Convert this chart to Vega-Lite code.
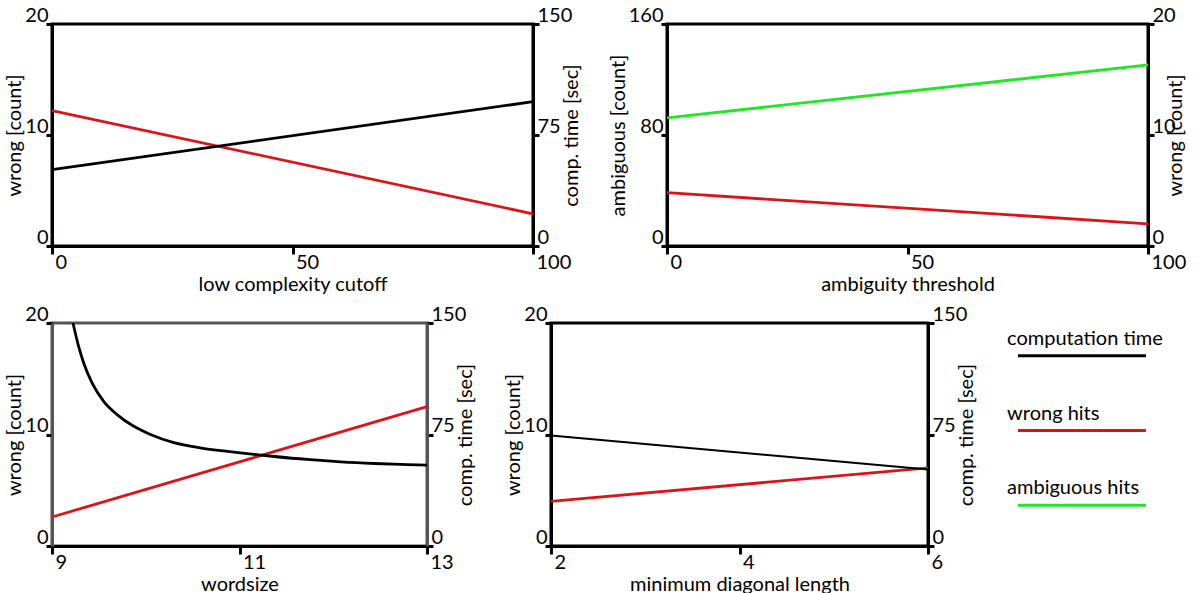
{
  "$schema": "https://vega.github.io/schema/vega-lite/v6.json",
  "background": "white",
  "padding": {"left": 3, "top": 3, "right": 0, "bottom": 0},
  "autosize": {"type": "pad"},
  "datasets": {
    "p1": [
      {"x": 0, "series": "wrong hits", "value": 12.2},
      {"x": 100, "series": "wrong hits", "value": 2.9},
      {"x": 0, "series": "computation time", "value": 51.6},
      {"x": 100, "series": "computation time", "value": 97.5}
    ],
    "p2": [
      {"x": 0, "series": "ambiguous hits", "value": 92.3},
      {"x": 100, "series": "ambiguous hits", "value": 130.5},
      {"x": 0, "series": "wrong hits", "value": 4.8},
      {"x": 100, "series": "wrong hits", "value": 2.0}
    ],
    "p3": [
      {"x": 9, "series": "wrong hits", "value": 2.6},
      {"x": 13, "series": "wrong hits", "value": 12.5},
      {"x": 9.224, "series": "computation time", "value": 150},
      {"x": 9.284, "series": "computation time", "value": 134.2},
      {"x": 9.338, "series": "computation time", "value": 123.1},
      {"x": 9.427, "series": "computation time", "value": 109.7},
      {"x": 9.551, "series": "computation time", "value": 97.3},
      {"x": 9.694, "series": "computation time", "value": 88.4},
      {"x": 9.872, "series": "computation time", "value": 80.5},
      {"x": 10.05, "series": "computation time", "value": 75.0},
      {"x": 10.3, "series": "computation time", "value": 69.5},
      {"x": 10.58, "series": "computation time", "value": 66.0},
      {"x": 10.87, "series": "computation time", "value": 63.6},
      {"x": 11.01, "series": "computation time", "value": 62.6},
      {"x": 11.37, "series": "computation time", "value": 60.2},
      {"x": 11.72, "series": "computation time", "value": 58.2},
      {"x": 12.08, "series": "computation time", "value": 56.6},
      {"x": 12.44, "series": "computation time", "value": 55.5},
      {"x": 12.79, "series": "computation time", "value": 54.8},
      {"x": 13, "series": "computation time", "value": 54.4}
    ],
    "p4": [
      {"x": 2, "series": "wrong hits", "value": 4.0},
      {"x": 6, "series": "wrong hits", "value": 7.0},
      {"x": 2, "series": "computation time", "value": 74.3},
      {"x": 6, "series": "computation time", "value": 51.5}
    ],
    "legend": [
      {"series": "computation time"},
      {"series": "wrong hits"},
      {"series": "ambiguous hits"}
    ]
  },
  "config": {
    "font": "Lato",
    "view": {"stroke": "black", "strokeWidth": 3},
    "axis": {
      "labelFont": "Lato", "labelFontSize": 20, "labelColor": "black",
      "titleFont": "Lato", "titleFontSize": 20, "titleFontWeight": "normal", "titleColor": "black",
      "domainColor": "black", "domainWidth": 3, "tickColor": "black", "tickWidth": 3,
      "grid": false, "labelOverlap": false, "labelFlush": false, "labelBound": false
    },
    "axisX": {"tickSize": 8, "labelAlign": "left", "labelBaseline": "top", "labelOffset": 3, "labelPadding": -2, "titlePadding": 2, "labelAngle": 0},
    "axisLeft": {"tickSize": 6, "labelAlign": "right", "labelBaseline": "alphabetic", "labelOffset": -3, "labelPadding": -2, "titlePadding": 0},
    "axisRight": {"tickSize": 6, "labelAlign": "left", "labelBaseline": "alphabetic", "labelOffset": -3, "labelPadding": -2, "titlePadding": 10, "titleAngle": -90},
    "line": {"strokeWidth": 2.8, "clip": true}
  },
  "spacing": 6,
  "vconcat": [
    {
      "bounds": "flush",
      "spacing": 134,
      "hconcat": [
        {
          "width": 481, "height": 222,
          "data": {"name": "p1"},
          "layer": [
            {
              "transform": [{"filter": "datum.series === 'wrong hits'"}],
              "mark": "line",
              "encoding": {
                "x": {"field": "x", "type": "quantitative", "scale": {"domain": [0, 100]}, "axis": {"title": "low complexity cutoff", "values": [0, 50, 100]}},
                "y": {"field": "value", "type": "quantitative", "scale": {"domain": [0, 20]}, "axis": {"orient": "left", "title": "wrong [count]", "values": [0, 10, 20]}},
                "color": {"field": "series", "type": "nominal", "scale": {"domain": ["computation time", "wrong hits", "ambiguous hits"], "range": ["#000000", "#d9141b", "#22e622"]}, "legend": null}
              }
            },
            {
              "transform": [{"filter": "datum.series === 'computation time'"}],
              "mark": "line",
              "encoding": {
                "x": {"field": "x", "type": "quantitative", "scale": {"domain": [0, 100]}, "axis": {"title": "low complexity cutoff", "values": [0, 50, 100]}},
                "y": {"field": "value", "type": "quantitative", "scale": {"domain": [0, 150]}, "axis": {"orient": "right", "title": "comp. time [sec]", "values": [0, 75, 150]}},
                "color": {"field": "series", "type": "nominal", "scale": {"domain": ["computation time", "wrong hits", "ambiguous hits"], "range": ["#000000", "#d9141b", "#22e622"]}, "legend": null}
              }
            }
          ],
          "resolve": {"scale": {"y": "independent"}}
        },
        {
          "width": 481, "height": 222,
          "data": {"name": "p2"},
          "layer": [
            {
              "transform": [{"filter": "datum.series === 'ambiguous hits'"}],
              "mark": "line",
              "encoding": {
                "x": {"field": "x", "type": "quantitative", "scale": {"domain": [0, 100]}, "axis": {"title": "ambiguity threshold", "values": [0, 50, 100]}},
                "y": {"field": "value", "type": "quantitative", "scale": {"domain": [0, 160]}, "axis": {"orient": "left", "title": "ambiguous [count]", "values": [0, 80, 160]}},
                "color": {"field": "series", "type": "nominal", "scale": {"domain": ["computation time", "wrong hits", "ambiguous hits"], "range": ["#000000", "#d9141b", "#22e622"]}, "legend": null}
              }
            },
            {
              "transform": [{"filter": "datum.series === 'wrong hits'"}],
              "mark": "line",
              "encoding": {
                "x": {"field": "x", "type": "quantitative", "scale": {"domain": [0, 100]}, "axis": {"title": "ambiguity threshold", "values": [0, 50, 100]}},
                "y": {"field": "value", "type": "quantitative", "scale": {"domain": [0, 20]}, "axis": {"orient": "right", "title": "wrong [count]", "values": [0, 10, 20]}},
                "color": {"field": "series", "type": "nominal", "scale": {"domain": ["computation time", "wrong hits", "ambiguous hits"], "range": ["#000000", "#d9141b", "#22e622"]}, "legend": null}
              }
            }
          ],
          "resolve": {"scale": {"y": "independent"}}
        }
      ]
    },
    {
      "spacing": 24,
      "hconcat": [
        {
          "width": 375, "height": 223,
          "data": {"name": "p3"},
          "view": {"stroke": "#555555", "strokeWidth": 3},
          "layer": [
            {
              "transform": [{"filter": "datum.series === 'wrong hits'"}],
              "mark": "line",
              "encoding": {
                "x": {"field": "x", "type": "quantitative", "scale": {"domain": [9, 13]}, "axis": {"title": "wordsize", "values": [9, 11, 13]}},
                "y": {"field": "value", "type": "quantitative", "scale": {"domain": [0, 20]}, "axis": {"orient": "left", "title": "wrong [count]", "values": [0, 10, 20], "domainColor": "#555555"}},
                "color": {"field": "series", "type": "nominal", "scale": {"domain": ["computation time", "wrong hits", "ambiguous hits"], "range": ["#000000", "#d9141b", "#22e622"]}, "legend": null}
              }
            },
            {
              "transform": [{"filter": "datum.series === 'computation time'"}],
              "mark": {"type": "line", "interpolate": "monotone"},
              "encoding": {
                "x": {"field": "x", "type": "quantitative", "scale": {"domain": [9, 13]}, "axis": {"title": "wordsize", "values": [9, 11, 13]}},
                "y": {"field": "value", "type": "quantitative", "scale": {"domain": [0, 150]}, "axis": {"orient": "right", "title": "comp. time [sec]", "values": [0, 75, 150], "domainColor": "#555555"}},
                "color": {"field": "series", "type": "nominal", "scale": {"domain": ["computation time", "wrong hits", "ambiguous hits"], "range": ["#000000", "#d9141b", "#22e622"]}, "legend": null}
              }
            }
          ],
          "resolve": {"scale": {"y": "independent"}}
        },
        {
          "width": 377, "height": 223,
          "data": {"name": "p4"},
          "layer": [
            {
              "transform": [{"filter": "datum.series === 'wrong hits'"}],
              "mark": "line",
              "encoding": {
                "x": {"field": "x", "type": "quantitative", "scale": {"domain": [2, 6]}, "axis": {"title": "minimum diagonal length", "values": [2, 4, 6]}},
                "y": {"field": "value", "type": "quantitative", "scale": {"domain": [0, 20]}, "axis": {"orient": "left", "title": "wrong [count]", "values": [0, 10, 20]}},
                "color": {"field": "series", "type": "nominal", "scale": {"domain": ["computation time", "wrong hits", "ambiguous hits"], "range": ["#000000", "#d9141b", "#22e622"]}, "legend": null}
              }
            },
            {
              "transform": [{"filter": "datum.series === 'computation time'"}],
              "mark": {"type": "line", "strokeWidth": 2},
              "encoding": {
                "x": {"field": "x", "type": "quantitative", "scale": {"domain": [2, 6]}, "axis": {"title": "minimum diagonal length", "values": [2, 4, 6]}},
                "y": {"field": "value", "type": "quantitative", "scale": {"domain": [0, 150]}, "axis": {"orient": "right", "title": "comp. time [sec]", "values": [0, 75, 150]}},
                "color": {"field": "series", "type": "nominal", "scale": {"domain": ["computation time", "wrong hits", "ambiguous hits"], "range": ["#000000", "#d9141b", "#22e622"]}, "legend": null}
              }
            }
          ],
          "resolve": {"scale": {"y": "independent"}}
        },
        {
          "width": 150, "height": 215,
          "view": {"stroke": null},
          "data": {"name": "legend"},
          "layer": [
            {
              "mark": {"type": "rule", "strokeWidth": 3},
              "encoding": {
                "x": {"datum": 0.1, "type": "quantitative", "scale": {"domain": [0, 1]}, "axis": null},
                "x2": {"datum": 0.953},
                "y": {"field": "series", "type": "nominal", "sort": null, "scale": {"type": "point", "padding": 0.44}, "axis": null},
                "color": {"field": "series", "type": "nominal", "scale": {"domain": ["computation time", "wrong hits", "ambiguous hits"], "range": ["#000000", "#d9141b", "#22e622"]}, "legend": null}
              }
            },
            {
              "mark": {"type": "text", "align": "left", "baseline": "alphabetic", "dy": -11, "fontSize": 20, "font": "Lato", "color": "black"},
              "encoding": {
                "x": {"datum": 0.027, "type": "quantitative", "scale": {"domain": [0, 1]}, "axis": null},
                "y": {"field": "series", "type": "nominal", "sort": null, "scale": {"type": "point", "padding": 0.44}, "axis": null},
                "text": {"field": "series"}
              }
            }
          ]
        }
      ]
    }
  ]
}
